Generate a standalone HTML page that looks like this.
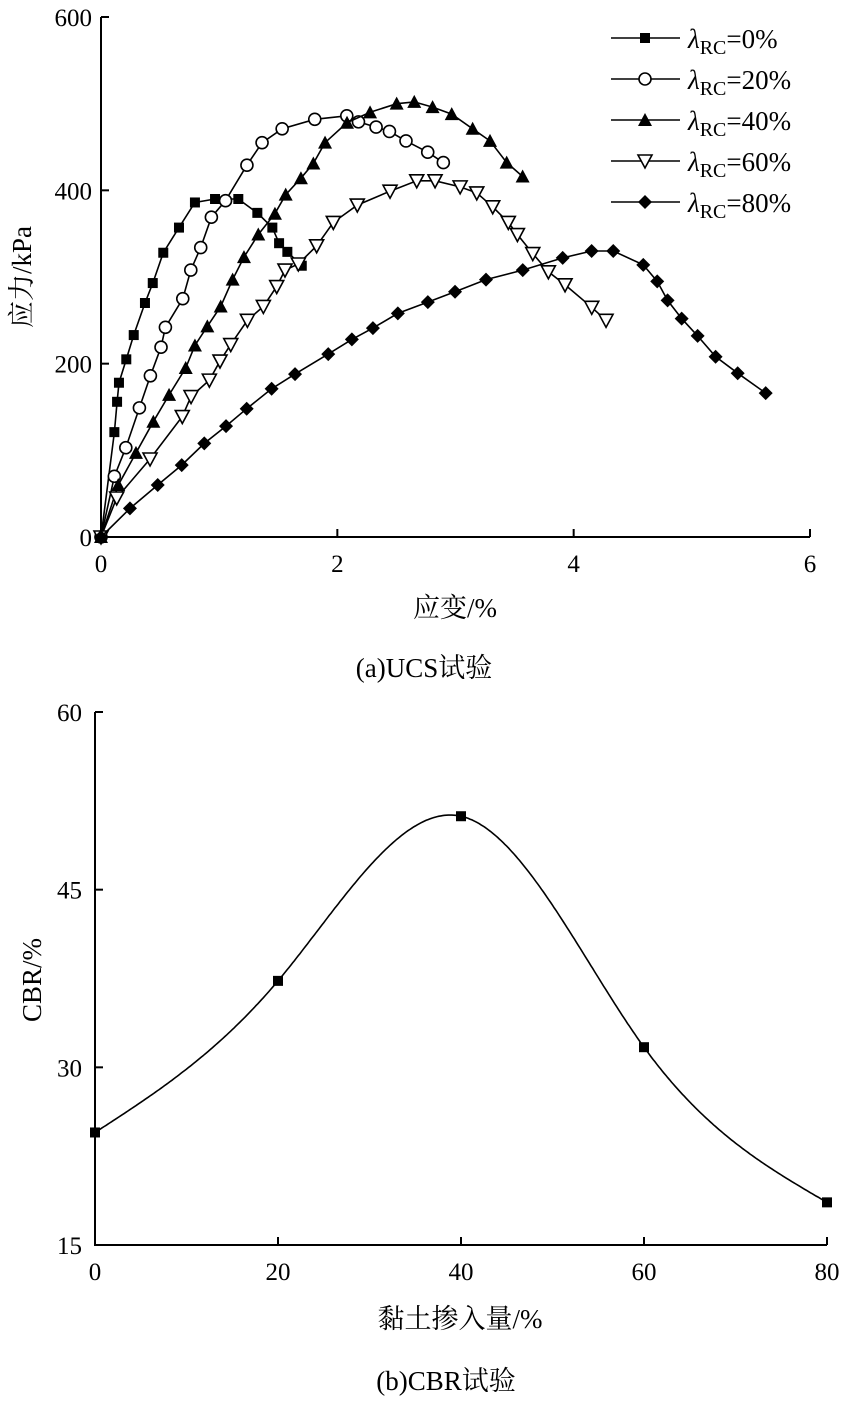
<!DOCTYPE html>
<html><head><meta charset="utf-8">
<style>
html,body{margin:0;padding:0;background:#fff;}
svg{display:block;font-family:"Liberation Serif","Noto Serif CJK SC","Noto Sans CJK SC",serif;}
</style></head>
<body>
<svg id="fig" width="848" height="1401" viewBox="0 0 848 1401" xmlns="http://www.w3.org/2000/svg"></svg>
<script>
// ---------- Chart (a) data ----------
const ucsXTicks = [0, 2, 4, 6];
const ucsYTicks = [0, 200, 400, 600];
const ucsLabels = ["0%", "20%", "40%", "60%", "80%"];
const s0x = [0,0.113,0.136,0.152,0.214,0.277,0.372,0.438,0.527,0.660,0.795,0.965,1.162,1.323,1.450,1.507,1.577,1.699];
const s0y = [0,121,156,178,205,233,270,293,328,357,386,390,390,374,357,339,329,313];
const s1x = [0,0.113,0.210,0.325,0.418,0.508,0.545,0.692,0.760,0.844,0.934,1.054,1.235,1.363,1.533,1.809,2.080,2.179,2.328,2.441,2.581,2.765,2.897];
const s1y = [0,70,103,149,186,219,242,275,308,334,369,388,429,455,471,482,486,479,473,468,457,444,432];
const s2x = [0,0.146,0.296,0.443,0.576,0.717,0.795,0.900,1.013,1.114,1.210,1.331,1.472,1.563,1.692,1.797,1.896,2.082,2.277,2.502,2.651,2.806,2.968,3.145,3.292,3.433,3.568];
const s2y = [0,60,97,133,164,195,221,243,266,297,323,349,373,395,414,431,455,478,490,500,502,496,488,471,457,432,416];
const s3x = [0,0.133,0.415,0.688,0.762,0.917,1.007,1.098,1.239,1.374,1.487,1.557,1.670,1.825,1.966,2.169,2.446,2.672,2.827,3.039,3.180,3.315,3.447,3.524,3.654,3.786,3.927,4.153,4.274];
const s3y = [0,45,90,139,162,181,203,222,250,266,289,308,315,336,363,383,399,411,411,404,397,381,363,349,327,306,291,265,250];
const s4x = [0,0.245,0.480,0.683,0.874,1.058,1.233,1.444,1.642,1.923,2.123,2.301,2.512,2.766,2.996,3.258,3.569,3.907,4.152,4.335,4.589,4.707,4.795,4.914,5.049,5.201,5.388,5.625];
const s4y = [0,33,60,83,108,128,148,171,188,211,228,241,258,271,283,297,308,322,330,330,314,295,273,252,232,208,189,166];
// ---------- Chart (b) data ----------
const cbrX = [0, 20, 40, 60, 80];
const cbrY = [24.5, 37.3, 51.2, 31.7, 18.6];
const cbrXTicks = [0, 20, 40, 60, 80];
const cbrYTicks = [15, 30, 45, 60];

const NS = "http://www.w3.org/2000/svg";
const svg = document.getElementById("fig");
function mk(tag, attrs, parent, text) {
  const e = document.createElementNS(NS, tag);
  for (const k in attrs) e.setAttribute(k, attrs[k]);
  if (text !== undefined) e.textContent = text;
  (parent || svg).appendChild(e);
  return e;
}

// ===== Chart (a) =====
const aL = 101, aR = 810, aB = 537, aT = 17;
const ax = v => aL + (v - 0) / 6 * (aR - aL);
const ay = v => aB - v / 600 * (aB - aT);
const gA = mk("g", {});


const axA = mk("path", {d:`M${aL},${aT} L${aL},${aB} L${aR},${aB}`, fill:"none", stroke:"#000", "stroke-width":2}, gA);


ucsXTicks.forEach(t => {
  const x = ax(t);
  if (t > 0) mk("line", {x1:x, y1:aB, x2:x, y2:aB-8, stroke:"#000", "stroke-width":2}, gA);
  const tl = mk("text", {x:x, y:aB+35, "text-anchor":"middle", "font-size":25}, gA, String(t));
  
  
});
ucsYTicks.forEach(t => {
  const y = ay(t);
  if (t > 0) mk("line", {x1:aL, y1:y, x2:aL+8, y2:y, stroke:"#000", "stroke-width":2}, gA);
  const tl = mk("text", {x:aL-9, y:y+9, "text-anchor":"end", "font-size":25}, gA, String(t));
  
  
});
const xtA = mk("text", {x:455, y:617, "text-anchor":"middle", "font-size":27}, gA, "应变/%");


const ytA = mk("text", {x:0, y:0, "text-anchor":"middle", "font-size":27, transform:"translate(31,277) rotate(-90)"}, gA, "应力/kPa");


const capA = mk("text", {x:424, y:677, "text-anchor":"middle", "font-size":27}, gA, "(a)UCS试验");



function marker(type, cx, cy, parent) {
  let e;
  if (type === 0) e = mk("rect", {x:cx-5, y:cy-5, width:10, height:10, fill:"#000"}, parent);
  else if (type === 1) e = mk("circle", {cx:cx, cy:cy, r:6, fill:"#fff", stroke:"#000", "stroke-width":1.6}, parent);
  else if (type === 2) e = mk("polygon", {points:`${cx},${cy-7} ${cx+7},${cy+6} ${cx-7},${cy+6}`, fill:"#000"}, parent);
  else if (type === 3) e = mk("polygon", {points:`${cx-7},${cy-6} ${cx+7},${cy-6} ${cx},${cy+7}`, fill:"#fff", stroke:"#000", "stroke-width":1.6}, parent);
  else e = mk("polygon", {points:`${cx},${cy-7} ${cx+7},${cy} ${cx},${cy+7} ${cx-7},${cy}`, fill:"#000"}, parent);
  return e;
}
const series = [[s0x,s0y],[s1x,s1y],[s2x,s2y],[s3x,s3y],[s4x,s4y]];
series.forEach((s, i) => {
  const g = mk("g", {}, gA);
  
  
  const pts = s[0].map((v, j) => ax(v).toFixed(1) + "," + ay(s[1][j]).toFixed(1)).join(" ");
  const pl = mk("polyline", {points:pts, fill:"none", stroke:"#000", "stroke-width":1.6}, g);
  
  
  s[0].forEach((v, j) => {
    const m = marker(i, ax(v), ay(s[1][j]), g);
    
    
  });
});
// legend
const lg = mk("g", {}, gA);


ucsLabels.forEach((lab, i) => {
  const y = 38 + i * 41;
  const le = mk("g", {}, lg);
  
  
  mk("line", {x1:611, y1:y, x2:680, y2:y, stroke:"#000", "stroke-width":1.6}, le);
  marker(i, 645, y, le);
  const t = mk("text", {x:688, y:y+10, "font-size":27}, le);
  mk("tspan", {"font-style":"italic"}, t, "λ");
  mk("tspan", {"font-size":20, dy:6}, t, "RC");
  mk("tspan", {dy:-6}, t, "=" + lab);
});

// ===== Chart (b) =====
const bL = 95, bR = 827, bB = 1245, bT = 712;
const bx = v => bL + v / 80 * (bR - bL);
const by = v => bB - (v - 15) / 45 * (bB - bT);
const gB = mk("g", {});


const axB = mk("path", {d:`M${bL},${bT} L${bL},${bB} L${bR},${bB}`, fill:"none", stroke:"#000", "stroke-width":2}, gB);


cbrXTicks.forEach(t => {
  const x = bx(t);
  if (t > 0) mk("line", {x1:x, y1:bB, x2:x, y2:bB-8, stroke:"#000", "stroke-width":2}, gB);
  const tl = mk("text", {x:x, y:bB+35, "text-anchor":"middle", "font-size":25}, gB, String(t));
  
  
});
cbrYTicks.forEach(t => {
  const y = by(t);
  if (t > 15) mk("line", {x1:bL, y1:y, x2:bL+8, y2:y, stroke:"#000", "stroke-width":2}, gB);
  const tl = mk("text", {x:bL-13, y:y+9, "text-anchor":"end", "font-size":25}, gB, String(t));
  
  
});
const xtB = mk("text", {x:460, y:1328, "text-anchor":"middle", "font-size":27}, gB, "黏土掺入量/%");


const ytB = mk("text", {x:0, y:0, "text-anchor":"middle", "font-size":27, transform:"translate(41,980) rotate(-90)"}, gB, "CBR/%");


const capB = mk("text", {x:446, y:1390, "text-anchor":"middle", "font-size":27}, gB, "(b)CBR试验");


// natural cubic spline through data
function naturalSpline(xs, ys) {
  const n = xs.length, h = [], al = [], l = [1], mu = [0], z = [0], c = new Array(n).fill(0);
  for (let i = 0; i < n-1; i++) h[i] = xs[i+1]-xs[i];
  for (let i = 1; i < n-1; i++) al[i] = 3/h[i]*(ys[i+1]-ys[i]) - 3/h[i-1]*(ys[i]-ys[i-1]);
  for (let i = 1; i < n-1; i++) {
    l[i] = 2*(xs[i+1]-xs[i-1]) - h[i-1]*mu[i-1];
    mu[i] = h[i]/l[i];
    z[i] = (al[i]-h[i-1]*z[i-1])/l[i];
  }
  const b = [], d = [];
  for (let j = n-2; j >= 0; j--) {
    c[j] = (j < n-1 && j > 0) ? z[j]-mu[j]*c[j+1] : (j===0 ? 0 : c[j]);
    b[j] = (ys[j+1]-ys[j])/h[j] - h[j]*(c[j+1]+2*c[j])/3;
    d[j] = (c[j+1]-c[j])/(3*h[j]);
  }
  c[0] = 0;
  for (let j = 0; j < n-1; j++) {
    b[j] = (ys[j+1]-ys[j])/h[j] - h[j]*(c[j+1]+2*c[j])/3;
    d[j] = (c[j+1]-c[j])/(3*h[j]);
  }
  return t => {
    let j = Math.min(n-2, Math.max(0, xs.findIndex((v,k)=>k<n-1 && t<=xs[k+1])));
    const dx = t - xs[j];
    return ys[j] + b[j]*dx + c[j]*dx*dx + d[j]*dx*dx*dx;
  };
}
const sp = naturalSpline(cbrX, cbrY);
let d = "";
const x0 = cbrX[0], x1 = cbrX[cbrX.length-1];
for (let k = 0; k <= 400; k++) {
  const t = x0 + (x1-x0)*k/400;
  d += (k ? " L" : "M") + bx(t).toFixed(1) + "," + by(sp(t)).toFixed(1);
}
const cl = mk("path", {d:d, fill:"none", stroke:"#000", "stroke-width":1.6}, gB);


cbrX.forEach((v, i) => {
  const m = mk("rect", {x:bx(v)-5, y:by(cbrY[i])-5, width:10, height:10, fill:"#000"}, gB);
  
  
});
</script>
</body></html>
